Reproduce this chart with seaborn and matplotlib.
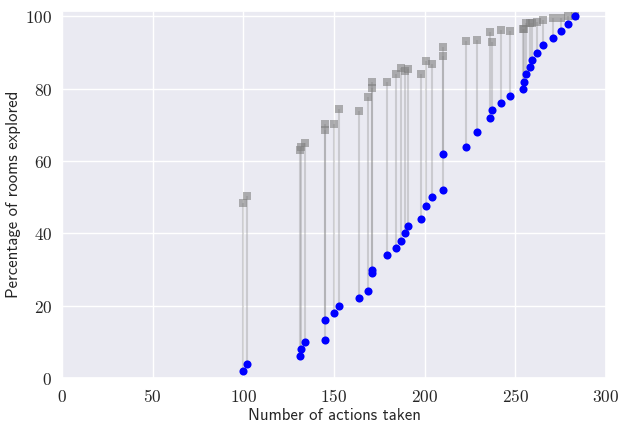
import matplotlib
matplotlib.use("Agg")
import matplotlib.pyplot as plt
import seaborn as sns
import pandas as pd
from matplotlib.ticker import FuncFormatter

# actions taken at each exploration step
actions = [100, 102, 131, 132, 134, 145, 145, 150, 153, 164,
           169, 171, 171, 179, 184, 187, 189, 191, 198, 201,
           204, 210, 210, 223, 229, 236, 237, 242, 247, 254,
           255, 256, 258, 259, 262, 265, 271, 275, 279, 283]

# agent (blue) percentage of rooms explored
agent_pct = [2, 4, 6, 8, 10, 10.5, 16, 18, 20, 22,
             24, 29, 30, 34, 36, 38, 40, 42, 44, 47.5,
             50, 52, 62, 64, 68, 72, 74, 76, 78, 80,
             82, 84, 86, 88, 90, 92, 94, 96, 98, 100]

# reference (gray) percentage of rooms explored
ref_pct = [48.5, 50.3, 63.0, 64.0, 65.0, 68.7, 70.3, 70.3, 74.4, 73.9,
           77.6, 80.2, 81.8, 81.8, 84.0, 85.8, 85.0, 85.4, 84.0, 87.6,
           86.9, 89.1, 91.5, 93.1, 93.6, 95.8, 93.0, 96.3, 96.0, 96.5,
           96.5, 98.2, 98.2, 98.2, 98.5, 99.0, 99.5, 99.5, 100, 100]

df = pd.DataFrame({"actions": actions, "agent": agent_pct, "ref": ref_pct})

sns.set_theme(style="darkgrid")
plt.rcParams["mathtext.fontset"] = "cm"

fig, ax = plt.subplots(figsize=(6.21, 4.22), dpi=100)
fig.subplots_adjust(left=62 / 621, right=606 / 621, top=1 - 11 / 422, bottom=1 - 378 / 422)

ax.vlines(df["actions"], df["agent"], df["ref"], color="gray", alpha=0.3, linewidth=1.5, zorder=2)
sns.scatterplot(data=df, x="actions", y="ref", marker="s", color="gray", alpha=0.6,
                s=30, linewidth=0, ax=ax, zorder=3)
sns.scatterplot(data=df, x="actions", y="agent", marker="o", color="blue",
                s=34, linewidth=0, ax=ax, zorder=4)

ax.set_xlim(0, 300)
ax.set_ylim(0, 101.5)
ax.set_xticks([0, 50, 100, 150, 200, 250, 300])
ax.set_yticks([0, 20, 40, 60, 80, 100])
fmt = FuncFormatter(lambda v, p: r"$%d$" % v)
ax.xaxis.set_major_formatter(fmt)
ax.yaxis.set_major_formatter(fmt)
ax.tick_params(labelsize=12.5, pad=1)

ax.set_xlabel("Number of actions taken", fontfamily="cmss10", fontsize=12, labelpad=2)
ax.set_ylabel("Percentage of rooms explored", fontfamily="cmss10", fontsize=12, labelpad=3)

fig.savefig("out.png", dpi=100)
